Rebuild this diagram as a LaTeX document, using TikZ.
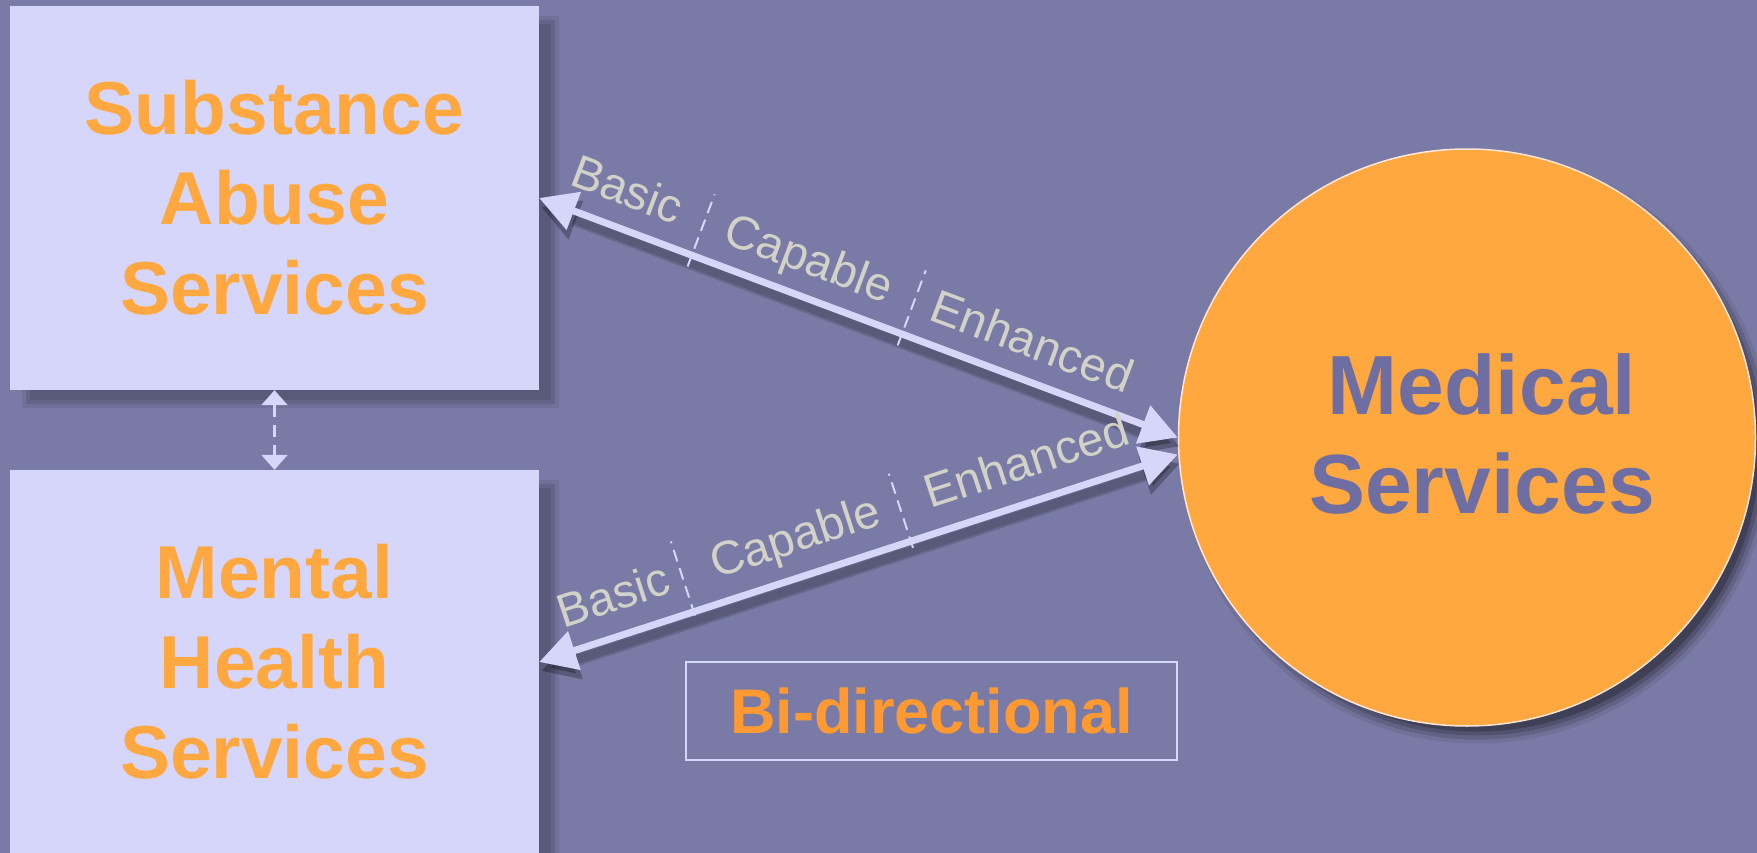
\documentclass[tikz,border=0pt]{standalone}
\usepackage{fontspec}
\setmainfont{Liberation Sans}
\usetikzlibrary{arrows.meta,calc}
\definecolor{bgc}{HTML}{7A7AA6}
\definecolor{boxc}{HTML}{D6D6FB}
\definecolor{orc}{HTML}{FFA840}
\definecolor{orb}{HTML}{FF9A33}
\definecolor{lblc}{HTML}{D2D2C8}
\definecolor{arrc}{HTML}{D6D6FB}
\definecolor{medtx}{HTML}{6E6EA2}
\definecolor{rimc}{HTML}{FFE6D8}
\begin{document}
\begin{tikzpicture}[x=1pt,y=-1pt,
  svcbox/.style={fill=boxc, minimum width=529pt, minimum height=384pt, inner sep=0pt,
    align=center, text=orc, font=\bfseries\fontsize{75}{90}\selectfont},
  conn/.style={draw=arrc, line width=7pt,
    {Triangle[length=37pt,width=39pt]}-{Triangle[length=37pt,width=39pt]}},
  connshadow/.style={draw=black, opacity=0.14, line width=#1,
    {Triangle[length=37pt,width=39pt]}-{Triangle[length=37pt,width=39pt]},
    transform canvas={shift={(2pt,-9pt)}}},
  lblup/.style={sloped, above=19pt, inner sep=0pt, text=lblc, text depth=0pt,
    font=\fontsize{47}{47}\selectfont},
  lbldn/.style={sloped, above=21pt, inner sep=0pt, text=lblc, text depth=0pt,
    font=\fontsize{47}{47}\selectfont},
  sepline/.style={draw=arrc, line width=2pt, dash pattern=on 12pt off 7pt},
  vdash/.style={draw=arrc, line width=2.5pt, dash pattern=on 12pt off 8pt,
    {Triangle[length=15pt,width=26pt]}-{Triangle[length=15pt,width=26pt]}}
]
\useasboundingbox (0,0) rectangle (1757,853);
\fill[bgc] (0,0) rectangle (1757,853);

% box shadows
\foreach \g/\o in {-4/0.1,0/0.1,4/0.08}{
  \fill[black,opacity=\o] (26-\g,20-\g) rectangle (555+\g,404+\g);
  \fill[black,opacity=\o] (26-\g,484-\g) rectangle (555+\g,870+\g);
}
% circle shadow
\foreach \g/\o in {-6/0.22,-2/0.16,2/0.12,6/0.08}{
  \fill[black,opacity=\o] (1477,449) circle[radius=288.5+\g];
}

\node[svcbox] (sa) at (274.5,198) {Substance\\Abuse\\Services};
\node[svcbox] (mh) at (274.5,662) {Mental\\Health\\Services};

\node[circle, fill=orc, draw=rimc, line width=1.5pt, minimum size=577pt, inner sep=0pt]
  (med) at (1467,437.5) {};
\node[text=medtx, align=center, inner sep=0pt, font=\bfseries\fontsize{84}{99}\selectfont]
  (medtxt) at (1482,434) {Medical\\Services};

\coordinate (medlow) at ($(med.west)+(0,17)$);

% arrow shadows
\draw[connshadow=9pt] (sa.east) -- (med.west);
\draw[connshadow=13pt] (sa.east) -- (med.west);
\draw[connshadow=9pt] (mh.east) -- (medlow);
\draw[connshadow=13pt] (mh.east) -- (medlow);

% upper arrow
\draw[conn] (sa.east) --
  node[lblup,pos=0.117] (ub) {Basic}
  node[lblup,pos=0.402] (uc) {Capable}
  node[lblup,pos=0.751] (ue) {Enhanced} (med.west);
% lower arrow
\draw[conn] (mh.east) --
  node[lbldn,pos=0.136] (lb) {Basic}
  node[lbldn,pos=0.42] (lc) {Capable}
  node[lbldn,pos=0.783] (le) {Enhanced} (medlow);

% separators
\coordinate (us1) at ($(sa.east)!0.239!(med.west)$);
\coordinate (us2) at ($(sa.east)!0.568!(med.west)$);
\coordinate (ls1) at ($(mh.east)!0.242!(medlow)$);
\coordinate (ls2) at ($(mh.east)!0.582!(medlow)$);
\draw[sepline] ($(us1)!12pt!-90:(med.west)$) -- ($(us1)!65pt!90:(med.west)$);
\draw[sepline] ($(us2)!12pt!-90:(med.west)$) -- ($(us2)!68pt!90:(med.west)$);
\draw[sepline] ($(ls1)!4pt!-90:(medlow)$) -- ($(ls1)!74pt!90:(medlow)$);
\draw[sepline] ($(ls2)!7pt!-90:(medlow)$) -- ($(ls2)!71pt!90:(medlow)$);

% vertical dashed link
\draw[vdash] (sa.south) -- (mh.north);

% bi-directional
\node[draw=arrc, line width=2pt, minimum width=491pt, minimum height=98pt, inner sep=0pt,
  text=orb, font=\bfseries\fontsize{63}{63}\selectfont] (bi) at (931.5,711) {Bi-directional};
\end{tikzpicture}
\end{document}
